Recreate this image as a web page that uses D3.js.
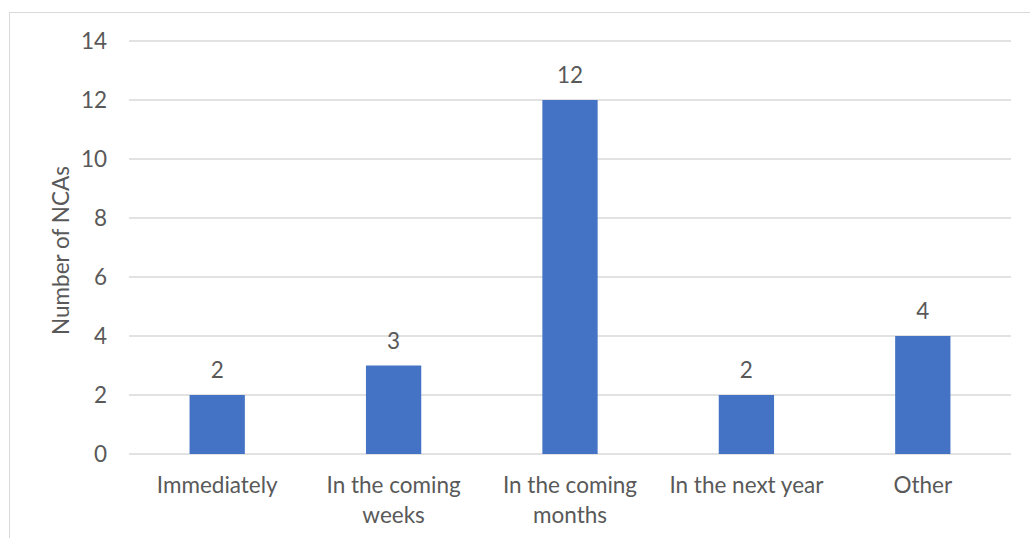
<!DOCTYPE html>
<html>
<head>
<meta charset="utf-8">
<script src="https://cdn.jsdelivr.net/npm/d3@7"></script>
<style>
  body { margin: 0; background: #fff; }
  text { font-family: Lato, "Open Sans", sans-serif; fill: #595959; }
</style>
</head>
<body>
<div id="chart"></div>
<script>
// data
const categories = [["Immediately"], ["In the coming", "weeks"], ["In the coming", "months"], ["In the next year"], ["Other"]];
const values = [2, 3, 12, 2, 4];
const yTicks = [0, 2, 4, 6, 8, 10, 12, 14];
const yTitle = "Number of NCAs";

const W = 1030, H = 538;
const margin = {top: 41, right: 19, bottom: 84, left: 129};
const width = W - margin.left - margin.right,
      height = H - margin.top - margin.bottom;
const fs = "22.5px";

const svg = d3.select("#chart")
  .append("svg")
    .attr("width", W)
    .attr("height", H);

// outer frame
svg.append("rect")
  .attr("x", 9.5).attr("y", 12.5)
  .attr("width", W + 10).attr("height", H + 10)
  .attr("fill", "none")
  .attr("stroke", "#d9d9d9")
  .attr("stroke-width", 1);

const g = svg.append("g")
  .attr("transform", "translate(" + margin.left + "," + margin.top + ")");

const x = d3.scaleBand()
  .domain(d3.range(categories.length))
  .range([0, width])
  .padding(0);
const barW = x.bandwidth() / 3.19;

const y = d3.scaleLinear()
  .domain([0, 14])
  .range([height, 0]);

// gridlines
g.selectAll(".grid")
  .data(yTicks)
  .enter()
  .append("line")
    .attr("x1", 0).attr("x2", width)
    .attr("y1", d => y(d)).attr("y2", d => y(d))
    .attr("stroke", "#d9d9d9")
    .attr("stroke-width", 1.5);

// y tick labels
g.selectAll(".ytick")
  .data(yTicks)
  .enter()
  .append("text")
    .attr("x", -22)
    .attr("y", d => y(d))
    .attr("dy", "0.35em")
    .attr("text-anchor", "end")
    .style("font-size", fs)
    .text(d => d);

// bars
g.selectAll(".bar")
  .data(values)
  .enter()
  .append("rect")
    .attr("x", (d, i) => x(i) + (x.bandwidth() - barW) / 2)
    .attr("y", d => y(d))
    .attr("width", barW)
    .attr("height", d => height - y(d))
    .attr("fill", "#4472c4");

// value labels
g.selectAll(".val")
  .data(values)
  .enter()
  .append("text")
    .attr("x", (d, i) => x(i) + x.bandwidth() / 2)
    .attr("y", d => y(d) - 17)
    .attr("text-anchor", "middle")
    .style("font-size", fs)
    .text(d => d);

// category labels
const cat = g.selectAll(".cat")
  .data(categories)
  .enter()
  .append("text")
    .attr("x", (d, i) => x(i) + x.bandwidth() / 2)
    .attr("y", height + 39)
    .attr("text-anchor", "middle")
    .style("font-size", fs);
cat.selectAll("tspan")
  .data(d => d)
  .enter()
  .append("tspan")
    .attr("x", function() { return this.parentNode.getAttribute("x"); })
    .attr("dy", (d, i) => i === 0 ? 0 : 30)
    .text(d => d);

// y axis title
svg.append("text")
  .attr("transform", "translate(69," + (margin.top + height / 2 + 3) + ") rotate(-90)")
  .attr("text-anchor", "middle")
  .style("font-size", fs)
  .text(yTitle);
</script>
</body>
</html>
